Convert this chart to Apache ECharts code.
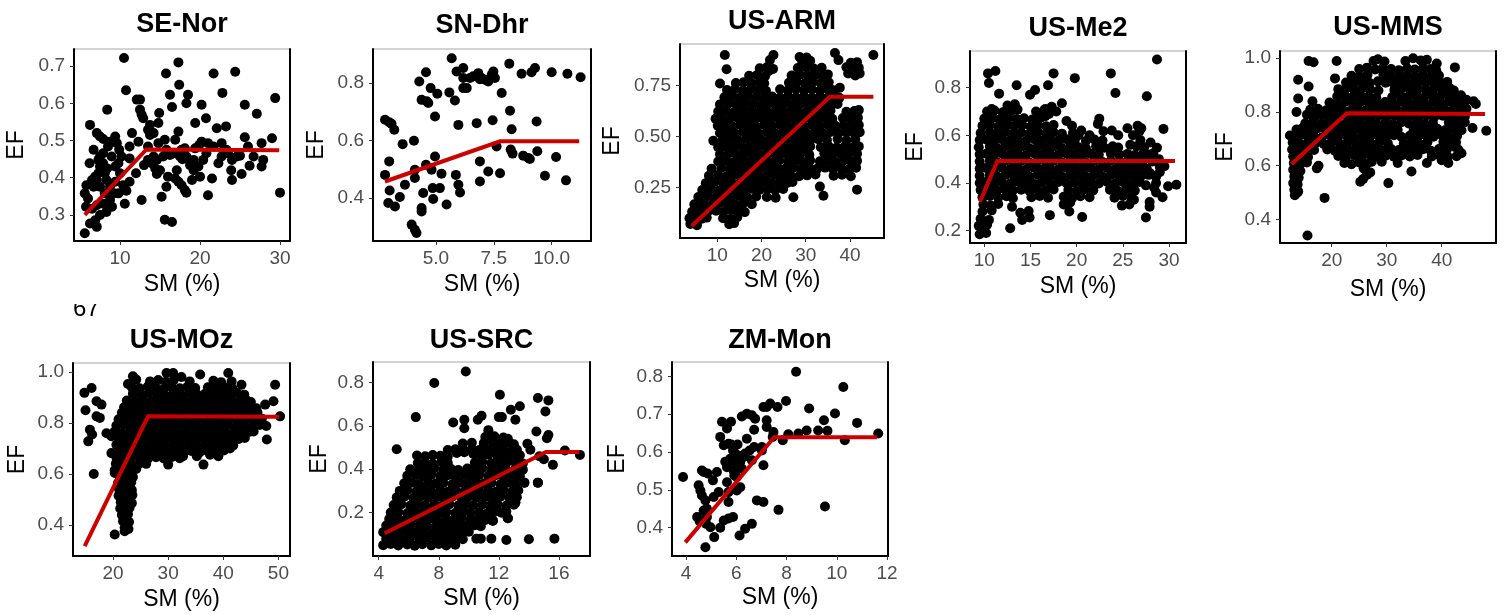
<!DOCTYPE html>
<html>
<head>
<meta charset="utf-8">
<script src="https://cdn.jsdelivr.net/npm/echarts@6/dist/echarts.min.js"></script>
<style>
html,body{margin:0;padding:0;background:#fff;}
#chart{width:1505px;height:615px;}
</style>
</head>
<body>
<div id="chart"></div>
<script>
// ---- site names ----
const siteNames = ['SE-Nor', 'SN-Dhr', 'US-ARM', 'US-Me2', 'US-MMS', 'US-MOz', 'US-SRC', 'ZM-Mon'];

// ---- observations: [SM (%), EF] ----
const seNorPts = [
[10.5,.722],[10.75,.635],[15.75,.68],[17.3,.71],[17.4,.65],[16.25,.623],[16.5,.59],[18.3,.60],[18.5,.623],[20.2,.596],
[20.75,.56],[21.7,.68],[22.8,.628],[24.4,.685],[22.1,.533],[23.25,.538],[25.6,.596],[27.1,.572],[29.4,.614],[29.0,.506],
[30.0,.36],[27.7,.493],[27.7,.43],[26.2,.432],[25.6,.509],[26.0,.484],[25.0,.459],[25.2,.41],[24.0,.394],[23.9,.42],
[24.0,.448],[23.5,.466],[22.7,.493],[22.7,.457],[21.7,.484],[21.0,.493],[20.8,.466],[20.2,.497],[19.9,.488],[20.0,.403],
[21.0,.353],[21.5,.398],[19.4,.479],[19.2,.448],[19.2,.42],[18.75,.434],[18.3,.457],[18.1,.479],[17.8,.45],[19.4,.547],
[17.3,.524],[16.9,.502],[17.7,.475],[16.7,.466],[16.25,.461],[15.6,.502],[15.8,.475],[16.0,.403],[16.9,.398],[17.3,.389],
[17.7,.38],[18.1,.367],[18.3,.36],[15.8,.376],[15.2,.349],[15.6,.287],[16.5,.281],[14.9,.574],[14.8,.547],[13.75,.542],
[13.5,.529],[13.75,.515],[14.2,.52],[13.5,.484],[13.5,.448],[13.96,.439],[14.4,.425],[14.6,.41],[15.0,.42],[15.4,.457],
[14.6,.448],[12.5,.61],[12.1,.61],[12.5,.583],[12.7,.57],[12.9,.56],[12.3,.497],[13.0,.434],[12.0,.412],[12.7,.34],
[11.5,.52],[11.2,.484],[11.2,.452],[11.2,.389],[10.8,.365],[10.6,.33],[10.0,.412],[10.2,.457],[9.9,.475],[9.4,.511],
[9.6,.493],[8.4,.583],[8.75,.497],[8.5,.484],[7.9,.504],[7.1,.52],[7.5,.511],[6.25,.542],[6.2,.439],[7.5,.457],
[7.9,.439],[8.4,.425],[8.1,.412],[7.3,.412],[6.9,.403],[6.5,.394],[5.8,.38],[5.6,.358],[6.0,.344],[6.7,.376],
[7.5,.376],[8.1,.358],[8.75,.376],[9.4,.389],[9.2,.358],[8.75,.34],[7.9,.33],[7.1,.326],[6.5,.317],[5.75,.322],
[7.5,.30],[8.3,.308],[9.0,.322],[6.9,.286],[7.1,.268],[6.25,.277],[5.6,.251],[7.3,.448],[6.7,.475],[7.9,.466],
[8.96,.457],[9.4,.43],[9.8,.439],[10.4,.38],[9.8,.358],[7.5,.43],[7.1,.394],[8.3,.394],[20.4,.448],[22.3,.439],
[23.3,.475],[24.6,.457],[26.7,.457],[27.9,.448],[19.0,.394],[19.8,.43],[17.1,.42],[17.5,.457],[14.8,.493],[14.2,.457]
];

const snDhrPts = [
[2.80,.48],[2.80,.672],[2.98,.663],[3.08,.658],[3.2,.637],[2.98,.527],[3.0,.426],[2.94,.382],[3.23,.37],[3.44,.403],
[3.56,.587],[3.66,.446],[4.05,.599],[4.09,.498],[3.95,.307],[4.09,.289],[4.16,.278],[4.09,.469],[4.28,.805],[4.38,.741],
[4.57,.837],[4.6,.736],[4.67,.73],[4.45,.417],[4.38,.365],[4.38,.353],[4.57,.515],[4.77,.782],[4.96,.683],[5.06,.762],
[4.96,.544],[4.81,.498],[4.86,.434],[4.88,.396],[5.17,.434],[5.24,.484],[5.46,.377],[5.58,.767],[5.68,.886],[5.82,.739],
[5.89,.84],[5.97,.654],[5.86,.48],[5.97,.446],[6.04,.419],[6.18,.852],[6.18,.817],[6.18,.782],[6.33,.782],[6.47,.817],
[6.61,.823],[6.73,.823],[6.83,.834],[6.9,.813],[6.97,.817],[7.12,.811],[7.26,.805],[7.41,.828],[7.48,.84],[7.55,.817],
[6.76,.66],[6.9,.527],[6.9,.457],[7.26,.492],[7.45,.67],[7.62,.579],[7.77,.486],[7.84,.765],[8.17,.867],[8.2,.703],
[8.27,.639],[8.23,.568],[8.31,.554],[8.7,.832],[8.77,.547],[8.99,.539],[9.06,.535],[9.13,.837],[9.28,.852],[9.35,.666],
[9.38,.562],[9.71,.477],[10.0,.837],[10.19,.542],[10.62,.461],[10.68,.832],[11.25,.82]
];

const usArmPts = [
[3.9,.072],[5.4,.066],[12.7,.07],[13.8,.076],
[3.7,.10],[5.0,.104],[6.5,.097],[7.6,.103],[11.3,.10],[12.9,.096],[14.5,.105],
[4.3,.132],[6.0,.138],[7.9,.134],[9.7,.137],[11.4,.131],[13.2,.14],[15.0,.135],[16.2,.13],
[4.8,.168],[6.9,.172],[8.8,.166],[10.5,.174],[12.3,.17],[14.1,.167],[15.9,.175],[17.8,.169],
[5.7,.204],[7.8,.208],[9.6,.20],[11.4,.207],[13.2,.203],[15.0,.209],[16.8,.201],[18.8,.206],[21.2,.204],[23.2,.20],[27.2,.203],[34.0,.21],
[6.6,.238],[8.6,.242],[10.4,.236],[12.2,.243],[14.1,.24],[15.9,.236],[17.7,.244],[19.5,.239],[21.3,.242],[23.1,.237],[24.9,.243],[33.2,.255],[41.6,.24],
[7.4,.272],[9.4,.278],[11.3,.274],[13.1,.279],[15.0,.271],[16.8,.277],[18.6,.273],[20.4,.279],[22.2,.272],[24.0,.276],[25.8,.273],[27.0,.278],
[8.1,.308],[10.2,.312],[12.1,.306],[13.9,.313],[15.7,.309],[17.5,.305],[19.3,.312],[21.1,.307],[22.9,.313],[24.7,.308],[26.5,.311],[28.5,.306],[30.3,.31],[32.2,.314],[36.3,.308],[38.2,.313],[40.2,.306],
[8.7,.343],[10.9,.347],[12.8,.341],[14.6,.348],[16.4,.344],[18.2,.34],[20.0,.347],[21.8,.342],[23.6,.348],[25.4,.343],[27.2,.346],[29.0,.341],[30.8,.347],[32.6,.343],[34.4,.348],[36.2,.342],[38.0,.346],[39.8,.341],[41.4,.347],
[10.2,.378],[12.0,.382],[13.8,.376],[15.6,.383],[17.4,.379],[19.2,.375],[21.0,.382],[22.8,.377],[24.0,.383],[26.0,.378],[27.8,.381],[29.6,.376],[31.0,.383],[33.2,.379],[35.0,.382],[36.8,.376],[38.6,.383],[40.4,.378],[41.6,.381],
[10.6,.413],[12.6,.417],[14.4,.411],[16.2,.418],[18.0,.414],[19.8,.41],[21.6,.417],[23.4,.412],[25.2,.418],[27.0,.413],[28.8,.416],[30.8,.411],[34.2,.417],[36.0,.413],[37.8,.418],[39.6,.412],[41.6,.416],
[10.2,.448],[11.8,.452],[13.6,.446],[15.4,.453],[17.2,.449],[19.0,.445],[20.8,.452],[22.6,.447],[24.4,.453],[26.2,.448],[28.0,.451],[29.8,.446],[31.0,.452],[33.4,.448],[35.2,.453],[37.0,.447],[38.8,.451],[40.6,.446],[42.0,.452],
[9.1,.48],[11.2,.483],[13.0,.487],[14.8,.481],[16.6,.488],[18.4,.484],[20.2,.48],[22.0,.487],[23.8,.482],[25.6,.488],[27.4,.483],[29.2,.486],[31.0,.481],[32.8,.487],[34.8,.483],[37.2,.488],[39.2,.482],[41.2,.486],
[10.6,.518],[12.2,.522],[14.0,.516],[15.8,.523],[17.6,.519],[19.4,.515],[21.2,.522],[23.0,.517],[24.8,.523],[26.6,.518],[28.4,.521],[30.2,.516],[32.0,.522],[33.8,.518],[35.6,.523],[37.4,.517],[39.2,.521],[41.0,.516],[42.2,.522],
[10.1,.553],[11.6,.557],[13.4,.551],[15.2,.558],[17.0,.554],[18.8,.55],[20.6,.557],[22.4,.552],[24.2,.558],[26.0,.553],[27.8,.556],[29.6,.551],[31.4,.557],[33.2,.553],[35.0,.558],[36.8,.552],[38.6,.556],[40.4,.551],[42.0,.557],
[9.6,.588],[11.0,.592],[12.8,.586],[14.6,.593],[16.4,.589],[18.2,.585],[20.0,.592],[21.8,.587],[23.6,.593],[25.4,.588],[27.2,.591],[29.0,.586],[30.8,.592],[32.6,.588],[34.4,.593],[36.0,.587],[38.4,.591],[40.2,.586],[41.8,.592],
[10.2,.623],[12.0,.627],[13.8,.621],[15.6,.628],[17.4,.624],[19.2,.62],[21.0,.627],[22.8,.622],[24.6,.628],[26.4,.623],[28.2,.626],[30.0,.621],[31.8,.627],[33.6,.623],[35.6,.628],[39.2,.622],[41.0,.626],[42.0,.63],
[10.6,.658],[12.6,.662],[14.4,.656],[16.2,.663],[18.0,.659],[19.8,.655],[21.6,.662],[23.4,.657],[25.2,.663],[27.0,.658],[28.8,.661],[30.6,.656],[32.4,.662],[34.2,.658],[36.2,.663],[37.2,.66],
[11.6,.693],[13.4,.697],[15.2,.691],[17.0,.698],[18.8,.694],[20.6,.69],[22.4,.697],[24.2,.692],[26.0,.698],[27.8,.693],[29.6,.696],[31.4,.691],[33.2,.697],[35.0,.693],[36.8,.698],[37.6,.69],
[12.2,.728],[14.0,.732],[15.8,.726],[17.6,.733],[19.4,.729],[21.0,.725],[24.2,.732],[26.0,.727],[27.8,.733],[29.6,.728],[31.4,.731],[33.2,.726],[35.0,.732],[36.0,.728],[37.7,.74],
[10.6,.76],[14.2,.763],[16.0,.767],[17.8,.761],[19.6,.768],[20.6,.762],[26.2,.764],[28.0,.768],[29.8,.762],[31.6,.767],[33.4,.763],[35.2,.766],
[17.2,.798],[19.0,.802],[20.8,.796],[21.6,.82],[26.8,.80],[28.6,.804],[30.4,.798],[32.2,.803],[34.0,.799],[35.0,.805],[39.6,.81],[41.2,.80],[42.2,.81],
[12.1,.83],[19.6,.835],[21.2,.84],[22.6,.832],[28.2,.836],[30.0,.84],[31.8,.834],[33.6,.838],[39.2,.84],[40.8,.845],[42.0,.838],
[21.9,.875],[29.2,.87],[31.0,.872],[37.4,.875],[40.2,.862],[41.6,.865],
[11.7,.90],[22.7,.90],[28.6,.89],[30.2,.888],[36.6,.91],[45.3,.90]
];

const usMe2Pts = [
[9.5,.185],[10.2,.19],[9.8,.20],
[9.4,.22],[10.3,.225],[12.8,.21],
[9.6,.25],[10.5,.245],[14.1,.245],[14.9,.255],[20.6,.257],[27.5,.255],
[9.8,.28],[10.8,.285],[13.9,.275],[14.8,.282],[17.1,.265],[19.2,.28],
[9.9,.31],[10.7,.305],[11.5,.312],[13.0,.30],[18.6,.31],[19.3,.318],[25.7,.31],[27.9,.30],[24.9,.305],
[9.8,.34],[10.6,.345],[11.5,.338],[12.4,.344],[13.1,.336],[15.1,.34],[16.0,.345],[16.9,.338],[18.6,.342],[19.5,.336],[20.4,.344],[21.4,.34],[24.1,.338],[25.0,.345],[25.9,.34],
[9.6,.37],[10.5,.373],[11.4,.367],[12.2,.374],[13.1,.369],[14.0,.372],[14.9,.366],[15.7,.374],[16.6,.368],[17.5,.373],[19.1,.37],[20.0,.366],[20.9,.374],[21.8,.369],[23.6,.372],[24.5,.366],[25.4,.374],[26.3,.368],[28.4,.38],[26.1,.386],
[9.5,.40],[10.2,.404],[11.0,.397],[11.9,.403],[12.8,.398],[13.6,.405],[14.5,.40],[15.4,.396],[16.2,.403],[17.1,.398],[18.0,.404],[18.9,.399],[19.7,.402],[20.6,.397],[21.5,.403],[22.4,.398],[23.3,.404],[24.2,.399],[25.1,.402],[25.9,.396],[26.8,.404],[28.6,.40],[29.9,.386],[30.8,.393],
[9.5,.43],[10.6,.433],[11.4,.427],[12.3,.434],[13.2,.429],[14.0,.432],[14.9,.426],[15.8,.434],[16.7,.428],[17.5,.433],[18.4,.427],[19.3,.434],[20.2,.43],[21.0,.426],[21.9,.433],[22.8,.428],[23.7,.434],[24.6,.429],[25.5,.432],[26.3,.427],[27.0,.43],[27.8,.434],[28.6,.426],[29.0,.445],
[9.5,.46],[10.2,.463],[11.0,.457],[11.9,.464],[12.8,.459],[13.6,.462],[14.5,.456],[15.4,.464],[16.2,.458],[17.1,.463],[18.0,.457],[18.9,.464],[19.7,.46],[20.6,.456],[21.5,.463],[22.4,.458],[23.3,.464],[24.2,.459],[25.1,.462],[25.9,.457],[26.6,.463],[27.6,.46],[29.0,.468],
[9.5,.49],[10.6,.493],[11.4,.487],[12.3,.494],[13.2,.489],[14.0,.492],[14.9,.486],[15.8,.494],[16.7,.488],[17.5,.493],[18.4,.487],[19.3,.494],[20.2,.49],[21.0,.486],[21.9,.493],[22.8,.488],[23.7,.494],[24.6,.489],[25.5,.492],[26.3,.487],[27.1,.493],
[9.5,.52],[10.2,.523],[11.0,.517],[11.9,.524],[12.8,.519],[13.6,.522],[14.5,.516],[15.4,.524],[16.2,.518],[17.1,.523],[18.0,.517],[18.9,.524],[19.7,.52],[20.6,.516],[21.5,.523],[22.4,.518],[23.7,.524],[24.6,.519],[25.5,.522],[26.3,.517],[27.2,.523],[28.3,.525],
[9.4,.55],[10.6,.553],[11.4,.547],[12.3,.554],[13.2,.549],[14.0,.552],[14.9,.546],[15.8,.554],[16.7,.548],[17.5,.553],[18.4,.547],[19.3,.554],[20.2,.55],[21.0,.546],[22.1,.553],[23.0,.548],[23.9,.554],[24.5,.549],[26.5,.554],[28.7,.548],
[9.5,.58],[10.2,.583],[11.0,.577],[11.9,.584],[12.8,.579],[13.6,.582],[14.5,.576],[15.4,.584],[16.2,.578],[17.1,.583],[18.0,.577],[18.9,.584],[19.8,.58],[21.0,.576],[21.9,.583],[22.8,.578],[28.0,.57],
[9.6,.61],[10.6,.613],[11.4,.607],[12.3,.614],[13.2,.609],[14.0,.612],[14.9,.606],[15.8,.614],[16.7,.608],[17.5,.613],[18.4,.607],[22.9,.617],[26.8,.617],[29.4,.627],
[9.8,.64],[10.6,.643],[11.5,.637],[12.4,.644],[13.2,.639],[14.1,.642],[15.0,.636],[15.8,.644],[16.7,.638],[17.5,.643],[22.3,.648],[26.6,.64],
[10.0,.67],[10.9,.673],[11.7,.667],[12.6,.674],[13.5,.669],[14.3,.672],[15.2,.666],[16.1,.674],[16.6,.68],[22.45,.67],
[10.3,.70],[11.1,.704],[12.0,.697],[12.9,.703],[13.6,.708],[15.6,.70],[16.5,.706],[17.0,.69],
[10.8,.71],[12.5,.725],[13.3,.73],[18.4,.735],[17.3,.72],
[26.9,.58],[27.3,.55],[27.8,.52],[28.2,.49],[26.5,.50],[27.2,.47],[28.0,.44],[26.7,.41],[27.5,.39],[28.6,.36],
[29.3,.34],[27.9,.32],[26.2,.33],[28.9,.50],[29.5,.47],[25.8,.56],[26.1,.60],[27.0,.63],[25.5,.63],[24.5,.60],
[23.8,.62],[20.5,.62],[19.5,.64],[18.9,.66],[20.2,.60],[21.4,.60],[19.6,.61],[16.6,.71],[17.8,.70],
[10.4,.86],[11.2,.87],[10.5,.82],[11.6,.775],[13.5,.81],[14.95,.77],[15.5,.79],[16.9,.81],[17.5,.86],[19.8,.84],[23.7,.86],[24.2,.778],[27.6,.764],[28.7,.918]
];

const usMmsPts = [
[15.8,.99],[16.7,.985],[20.9,.99],[27.6,.99],[28.4,.996],[29.6,.988],[33.4,.99],[34.8,1.0],[36.2,.992],[37.3,.994],[39.1,.98],
[25.0,.96],[26.4,.965],[27.9,.958],[29.3,.964],[30.8,.96],[32.2,.955],[33.7,.963],[35.1,.958],[36.6,.964],[38.0,.96],[39.0,.955],[42.4,.966],
[13.9,.92],[23.6,.935],[25.0,.932],[26.5,.938],[29.4,.939],[30.8,.934],[32.3,.93],[33.7,.937],[35.2,.932],[36.6,.938],[38.1,.933],[39.5,.936],
[20.6,.925],[22.6,.91],[24.0,.906],[25.5,.913],[26.9,.908],[28.4,.914],[29.8,.909],[31.3,.905],[32.7,.912],[34.2,.907],[35.6,.913],[37.1,.908],[38.5,.911],[40.0,.906],[41.0,.912],
[15.8,.895],[21.2,.885],[22.7,.888],[24.1,.882],[25.6,.889],[27.0,.884],[28.5,.88],[31.4,.882],[32.8,.888],[34.3,.883],[35.7,.886],[37.2,.881],[38.6,.887],[40.1,.883],[41.5,.888],[42.2,.88],
[13.9,.85],[21.0,.858],[22.3,.862],[23.8,.856],[25.2,.863],[26.7,.858],[28.1,.854],[31.0,.856],[32.5,.862],[33.9,.857],[35.4,.86],[36.8,.855],[38.3,.861],[39.7,.857],[41.2,.862],[42.6,.856],[43.5,.862],
[16.5,.84],[19.6,.835],[21.0,.832],[22.5,.838],[23.9,.833],[25.4,.839],[26.8,.834],[28.3,.83],[29.7,.837],[31.2,.832],[32.6,.838],[34.1,.833],[35.5,.836],[37.0,.831],[38.4,.837],[39.9,.833],[41.3,.838],[42.8,.832],[44.2,.838],[44.5,.845],[45.8,.84],
[16.1,.808],[17.5,.812],[19.0,.806],[20.4,.813],[21.9,.808],[23.3,.804],[24.8,.811],[26.2,.806],[27.7,.812],[29.1,.807],[30.6,.81],[32.0,.805],[33.5,.811],[34.9,.807],[36.4,.812],[37.8,.806],[39.3,.81],[40.7,.805],[42.2,.811],[43.6,.806],[44.5,.812],[46.2,.83],
[13.6,.80],[15.5,.79],[17.0,.784],[18.4,.788],[19.9,.782],[21.3,.789],[22.8,.784],[24.2,.78],[25.7,.787],[27.1,.782],[28.6,.788],[30.0,.783],[31.5,.786],[32.9,.781],[34.4,.787],[35.8,.783],[37.3,.788],[38.7,.782],[40.2,.786],[41.6,.781],[43.1,.787],[44.2,.782],
[15.2,.758],[16.6,.762],[18.1,.756],[19.5,.763],[21.0,.758],[22.4,.754],[23.9,.761],[25.3,.756],[26.8,.762],[28.2,.757],[29.7,.76],[31.1,.755],[32.6,.761],[34.0,.757],[35.5,.762],[36.9,.756],[38.4,.76],[41.3,.761],[42.7,.757],[44.2,.762],
[13.6,.735],[14.6,.738],[16.0,.732],[17.5,.739],[18.9,.734],[20.4,.73],[21.8,.737],[23.3,.732],[24.7,.738],[26.2,.733],[27.6,.736],[29.1,.731],[30.5,.737],[32.0,.733],[34.9,.732],[36.3,.736],[37.8,.731],[39.2,.737],[40.7,.733],[42.1,.738],[43.6,.732],[45.6,.74],[48.1,.73],
[12.4,.712],[13.9,.708],[15.3,.714],[16.8,.709],[18.2,.705],[19.7,.712],[21.1,.707],[22.6,.713],[24.0,.708],[25.5,.711],[26.9,.706],[28.4,.712],[29.8,.708],[31.3,.713],[32.7,.707],[34.2,.711],[35.6,.706],[37.1,.712],[38.5,.708],[40.0,.713],[41.4,.707],[42.8,.711],
[12.9,.686],[14.2,.682],[15.7,.689],[17.1,.684],[18.6,.68],[20.0,.687],[21.5,.682],[22.9,.688],[24.4,.683],[25.8,.686],[27.3,.681],[28.7,.687],[30.2,.683],[33.1,.682],[34.5,.686],[36.0,.681],[37.4,.687],[40.3,.688],[41.8,.682],[42.6,.686],
[12.8,.66],[13.9,.656],[15.3,.663],[16.8,.658],[19.2,.66],[20.6,.655],[22.1,.662],[23.5,.657],[25.0,.663],[26.4,.658],[27.9,.661],[29.3,.656],[30.8,.662],[32.2,.658],[33.7,.663],[35.1,.657],[36.6,.661],[38.0,.656],[39.5,.662],[40.9,.658],[42.4,.67],[43.0,.66],
[13.0,.635],[14.3,.638],[15.7,.632],[21.2,.636],[22.6,.632],[24.1,.639],[25.5,.634],[27.0,.64],[28.4,.635],[29.9,.638],[31.3,.633],[32.8,.639],[34.2,.634],[35.6,.64],[38.2,.634],[39.6,.638],[41.1,.633],[42.7,.635],[43.6,.646],
[13.1,.61],[14.3,.606],[15.5,.612],[17.6,.60],[22.3,.61],[23.6,.605],[25.0,.612],[26.4,.607],[27.3,.615],[29.1,.615],[32.0,.61],[37.3,.61],[41.2,.61],[40.0,.62],
[13.0,.585],[14.3,.58],[17.3,.59],[27.0,.575],[34.5,.578],[25.8,.59],
[13.2,.56],[14.0,.555],[26.4,.565],[30.3,.535],[25.7,.55],
[13.0,.535],[13.8,.53],[25.2,.54],
[13.2,.51],[13.9,.505],
[13.3,.49],[18.7,.48],[13.8,.50],
[15.6,.34]
];

const usMozPts = [
[23.6,.983],[29.7,.996],[30.9,.996],[35.8,.99],[40.9,.996],
[22.7,.953],[24.2,.97],[26.7,.963],[28.2,.968],[29.6,.962],[31.0,.968],[32.4,.98],[33.9,.963],[38.2,.965],[39.6,.96],[41.5,.963],
[16.1,.937],[23.4,.94],[24.8,.936],[26.3,.943],[27.7,.938],[29.2,.934],[30.6,.941],[32.1,.936],[33.5,.942],[34.9,.937],[37.2,.94],[38.7,.935],[40.1,.942],[41.6,.937],[43.3,.95],[49.4,.95],
[14.8,.918],[23.6,.915],[25.1,.912],[26.5,.918],[28.0,.913],[29.4,.909],[30.9,.916],[32.3,.911],[33.8,.917],[35.2,.912],[36.7,.915],[38.1,.91],[39.6,.916],[41.0,.912],[42.5,.917],[43.8,.911],
[17.0,.885],[22.5,.888],[24.0,.884],[25.4,.891],[26.9,.886],[28.3,.882],[29.8,.889],[31.2,.884],[32.7,.89],[34.1,.885],[35.6,.888],[37.0,.883],[38.5,.889],[39.9,.885],[41.4,.89],[42.8,.884],[44.3,.888],[45.0,.882],[49.1,.885],
[17.9,.872],[22.0,.862],[23.3,.866],[24.7,.86],[26.2,.867],[27.6,.862],[29.1,.858],[30.5,.865],[32.0,.86],[33.4,.866],[34.9,.861],[36.3,.864],[37.8,.859],[39.2,.865],[40.7,.861],[42.1,.866],[43.6,.86],[45.0,.864],[46.0,.858],[47.6,.872],
[15.0,.85],[21.6,.84],[23.0,.837],[24.5,.843],[25.9,.838],[27.4,.844],[28.8,.839],[30.3,.835],[31.7,.842],[33.2,.837],[34.6,.843],[36.1,.838],[37.5,.841],[39.0,.836],[40.4,.842],[41.9,.838],[43.3,.843],[44.8,.837],[46.2,.841],
[17.0,.826],[17.6,.82],[21.0,.815],[22.4,.818],[23.9,.812],[25.3,.819],[26.8,.814],[28.2,.81],[29.7,.817],[31.1,.812],[32.6,.818],[34.0,.813],[35.5,.816],[36.9,.811],[38.4,.817],[39.8,.813],[41.3,.818],[42.7,.812],[44.2,.816],[45.6,.811],[47.0,.817],[46.7,.80],[50.3,.826],
[20.6,.79],[22.0,.793],[23.4,.787],[24.9,.794],[26.3,.789],[27.8,.785],[29.2,.792],[30.7,.787],[32.1,.793],[33.6,.788],[35.0,.791],[36.5,.786],[37.9,.792],[39.4,.788],[40.8,.793],[42.3,.787],[43.7,.791],[45.2,.786],[46.6,.792],[47.8,.788],
[15.8,.774],[18.8,.76],[20.2,.765],[21.6,.761],[23.1,.768],[24.5,.763],[26.0,.759],[27.4,.766],[28.9,.761],[30.3,.767],[31.8,.762],[33.2,.765],[34.7,.76],[36.1,.766],[37.6,.762],[39.0,.767],[40.5,.761],[41.9,.765],[43.4,.76],[44.8,.766],[45.5,.767],
[15.5,.728],[16.2,.755],[19.7,.748],[21.1,.74],[22.5,.743],[24.0,.737],[25.4,.744],[26.9,.739],[28.3,.735],[29.8,.742],[31.2,.737],[32.7,.743],[34.1,.738],[35.6,.741],[37.0,.736],[38.5,.742],[39.9,.738],[41.4,.743],[42.8,.737],[43.9,.741],[47.9,.735],
[20.6,.715],[22.0,.718],[23.4,.712],[24.9,.719],[26.3,.714],[27.8,.71],[29.2,.717],[30.7,.712],[32.1,.718],[33.6,.713],[35.0,.716],[36.5,.711],[37.9,.717],[39.4,.713],[40.8,.718],[41.8,.712],
[19.7,.682],[21.2,.69],[22.6,.687],[24.1,.693],[25.5,.688],[27.0,.684],[28.4,.691],[29.9,.686],[31.3,.692],[32.8,.687],[34.2,.69],[35.7,.685],[37.1,.691],[38.6,.687],[40.1,.692],[41.2,.70],
[20.6,.665],[22.0,.662],[23.4,.668],[24.9,.663],[26.3,.659],[27.8,.666],[29.2,.661],[30.7,.667],[32.1,.662],[32.7,.67],[35.2,.67],[37.6,.676],[39.1,.67],
[20.5,.64],[21.8,.636],[23.2,.643],[24.6,.638],[26.0,.64],[30.0,.637],[36.4,.637],
[20.3,.615],[21.6,.618],[23.0,.612],[24.2,.62],
[16.5,.60],[20.3,.604],[21.2,.59],[22.4,.593],[23.6,.588],
[20.9,.565],[22.1,.562],[23.3,.568],
[21.1,.54],[22.3,.543],[23.4,.537],
[21.0,.515],[22.2,.512],[23.5,.518],
[21.4,.49],[22.6,.493],[23.4,.486],
[21.3,.465],[22.4,.462],[23.0,.468],
[21.6,.44],[22.7,.443],
[21.8,.415],[22.9,.412],
[22.1,.39],[22.8,.385],
[20.3,.363],[22.1,.376]
];

const usSrcPts = [
[4.3,.05],[4.8,.055],[5.3,.048],[5.9,.053],[6.4,.047],[6.9,.054],[7.5,.049],[8.0,.055],[8.5,.048],[9.1,.052],
[4.5,.08],[5.0,.083],[5.6,.078],[6.1,.084],[6.7,.079],[7.2,.085],[7.8,.08],[8.3,.084],[8.8,.079],[9.3,.083],[9.6,.077],[10.5,.08],[10.8,.08],[11.5,.08],[12.5,.074],[14.0,.077],[15.7,.08],
[4.3,.11],[4.8,.113],[5.3,.107],[5.9,.114],[6.4,.109],[6.9,.112],[7.5,.106],[8.0,.113],[8.5,.108],[9.1,.114],[9.6,.109],[10.0,.112],
[4.5,.14],[5.0,.143],[5.6,.137],[6.1,.144],[6.7,.139],[7.2,.142],[7.8,.136],[8.3,.143],[8.8,.138],[9.4,.144],[9.9,.139],[10.4,.142],[10.8,.137],
[4.7,.17],[5.3,.173],[5.8,.167],[6.3,.174],[6.9,.169],[7.4,.172],[7.9,.166],[8.5,.173],[9.0,.168],[9.5,.174],[10.1,.169],[10.6,.172],[11.1,.166],[11.6,.163],[12.6,.174],
[4.8,.20],[5.3,.203],[5.9,.197],[6.4,.204],[6.9,.199],[7.5,.202],[8.0,.196],[8.5,.203],[9.1,.198],[9.6,.204],[10.1,.199],[10.7,.202],[11.2,.196],[11.7,.203],[12.2,.20],[12.5,.205],
[5.0,.235],[5.5,.238],[6.1,.232],[6.6,.239],[7.1,.234],[7.7,.237],[8.2,.231],[8.7,.238],[9.3,.233],[9.8,.239],[10.3,.234],[10.9,.237],[11.4,.231],[11.9,.238],[12.5,.233],[13.0,.236],[13.1,.246],
[5.2,.27],[5.7,.273],[6.3,.267],[6.8,.274],[7.3,.269],[7.9,.272],[8.4,.266],[8.9,.273],[9.5,.268],[10.0,.274],[10.5,.269],[11.1,.272],[11.6,.266],[12.1,.273],[12.7,.268],[13.2,.271],
[5.4,.30],[5.9,.303],[6.5,.297],[7.0,.304],[7.5,.299],[8.1,.302],[8.6,.296],[9.1,.303],[9.7,.298],[10.2,.304],[10.7,.299],[11.3,.302],[11.8,.296],[12.3,.303],[12.9,.298],[13.3,.302],
[5.7,.335],[6.2,.338],[6.7,.332],[7.3,.339],[7.8,.334],[8.3,.337],[8.9,.331],[9.4,.338],[9.9,.333],[10.5,.339],[11.0,.334],[11.5,.337],[12.1,.331],[12.6,.338],[13.1,.333],[13.7,.338],[14.6,.338],
[5.9,.37],[6.5,.373],[7.0,.367],[7.5,.374],[8.1,.369],[8.6,.372],[9.1,.366],[9.7,.373],[10.2,.368],[10.7,.374],[11.3,.369],[11.8,.372],[12.3,.366],[12.9,.373],[13.4,.368],
[6.1,.40],[6.7,.403],[7.2,.397],[7.7,.404],[8.3,.399],[8.8,.402],[9.3,.396],[9.9,.403],[10.4,.398],[10.9,.404],[11.5,.399],[12.0,.402],[12.5,.396],[13.1,.403],[13.6,.398],
[6.6,.428],[7.1,.432],[7.6,.426],[8.2,.433],[8.6,.428],[10.4,.43],[10.9,.433],[11.5,.427],[12.0,.434],[12.5,.429],[13.1,.432],[13.6,.426],
[6.55,.463],[7.1,.46],[7.6,.465],[8.1,.462],[8.6,.458],[9.2,.475],[9.7,.478],[10.3,.47],[10.8,.463],[11.3,.467],[11.9,.461],[12.4,.466],[12.9,.46],[13.4,.464],[15.0,.446],[14.7,.46],[17.4,.466],
[8.6,.488],[9.1,.492],[9.7,.486],[10.2,.493],[10.7,.488],[11.3,.491],[11.8,.485],[12.3,.492],[12.9,.487],[13.2,.49],[5.2,.492],[14.1,.49],[16.4,.486],
[9.6,.518],[10.2,.522],[11.0,.52],[11.6,.524],[12.1,.518],[12.7,.522],[13.0,.515],[13.9,.517],
[11.1,.548],[11.7,.552],[12.3,.546],[12.6,.54],[15.2,.543],[15.3,.558],[11.3,.58],
[9.8,.85],[7.7,.797],[6.47,.64],[8.96,.615],[9.7,.628],[9.7,.589],[10.85,.646],[10.6,.628],[12.07,.743],[12.0,.64],
[12.2,.64],[12.8,.674],[13.4,.69],[13.1,.628],[14.6,.728],[15.3,.717],[15.1,.666],[14.5,.574],[15.6,.42],[14.6,.338],
[13.7,.338],[13.1,.246],[12.6,.174],[11.6,.163],[12.2,.20]
];

const zmMonPts = [
[3.88,.534],[4.63,.551],[4.7,.547],[4.86,.543],[5.23,.547],[5.07,.525],[4.5,.512],[4.57,.498],[4.63,.485],[4.77,.472],
[4.7,.445],[4.83,.45],[4.54,.417],[4.8,.41],[4.97,.401],[4.77,.348],[5.12,.375],[5.36,.40],[5.5,.419],[5.69,.424],
[5.87,.428],[6.13,.379],[6.35,.397],[6.62,.41],[6.82,.472],[7.08,.468],[7.68,.447],[7.08,.565],[7.02,.604],[9.53,.456],
[5.36,.64],[5.43,.68],[5.79,.68],[5.63,.662],[5.5,.618],[5.69,.622],[5.56,.574],[5.63,.56],[5.76,.582],[5.63,.52],
[5.69,.494],[5.69,.468],[5.83,.578],[5.87,.604],[5.96,.596],[6.0,.565],[5.92,.538],[6.02,.498],[6.16,.574],[6.22,.556],
[6.29,.587],[6.35,.596],[6.42,.635],[6.22,.694],[6.42,.701],[6.62,.697],[6.75,.688],[6.71,.659],[6.53,.604],[6.62,.578],
[6.71,.613],[7.02,.613],[7.08,.719],[7.21,.719],[7.35,.728],[7.21,.684],[7.21,.666],[7.48,.653],[7.64,.719],[7.98,.735],
[7.45,.64],[7.85,.631],[8.38,.812],[8.07,.647],[8.47,.649],[8.9,.715],[8.8,.657],[9.26,.657],[9.49,.684],[9.63,.656],
[9.93,.702],[10.26,.772],[10.32,.631],[10.81,.677],[11.65,.649],[6.16,.507],[6.02,.534],[5.1,.481],[5.3,.494],[4.83,.428],
[4.44,.428],[5.9,.55],[6.1,.59],[5.8,.62],[6.05,.62]
];

// ---- segmented regression fits: start, breakpoint, end ----
const seNorFit = [[5.6, 0.300], [13.3, 0.476], [29.9, 0.474]];
const snDhrFit = [[2.80, 0.457], [7.77, 0.597], [11.19, 0.597]];
const usArmFit = [[4.2, 0.062], [35.5, 0.696], [45.3, 0.696]];
const usMe2Fit = [[9.53, 0.321], [11.41, 0.492], [30.65, 0.492]];
const usMmsFit = [[12.73, 0.606], [22.73, 0.795], [47.87, 0.792]];
const usMozFit = [[14.85, 0.318], [26.34, 0.826], [50.1, 0.824]];
const usSrcFit = [[4.40, 0.105], [15.14, 0.479], [17.36, 0.479]];
const zmMonFit = [[3.97, 0.361], [7.51, 0.639], [11.60, 0.639]];

// ---- axis ticks and extents ----
const xTicks = [[10,20,30],[5,7.5,10],[10,20,30,40],[10,15,20,25,30],[20,30,40],[20,30,40,50],[4,8,12,16],[4,6,8,10,12]];
const yTicks = [[0.3,0.4,0.5,0.6,0.7],[0.4,0.6,0.8],[0.25,0.5,0.75],[0.2,0.4,0.6,0.8],[0.4,0.6,0.8,1.0],[0.4,0.6,0.8,1.0],[0.2,0.4,0.6,0.8],[0.4,0.5,0.6,0.7,0.8]];
const xDecimals = [0,1,0,0,0,0,0,0];
const yDecimals = [1,1,2,1,1,1,1,1];
const xExtent = [[4.25,31.25],[2.28,11.70],[1.56,47.7],[8.45,31.84],[10.6,49.87],[12.73,52.1],[3.62,18.07],[3.44,12.04]];
const yExtent = [[0.23,0.746],[0.25,0.918],[0.003,0.954],[0.148,0.954],[0.312,1.027],[0.279,1.035],[0.0,0.894],[0.325,0.838]];

const pointSets = [seNorPts, snDhrPts, usArmPts, usMe2Pts, usMmsPts, usMozPts, usSrcPts, zmMonPts];
const fitSets = [seNorFit, snDhrFit, usArmFit, usMe2Fit, usMmsFit, usMozFit, usSrcFit, zmMonFit];

// ---- panel layout (pixels) ----
const boxes = [
  {l:74,  t:49,  w:216, h:192},
  {l:373, t:49,  w:218, h:192},
  {l:680, t:44,  w:204, h:194},
  {l:970, t:51,  w:216, h:192},
  {l:1280,t:51,  w:216, h:192},
  {l:73,  t:363, w:217, h:193},
  {l:373, t:362, w:217, h:194},
  {l:672, t:362, w:216, h:194}
];
const titleY = [25, 26, 22, 29, 28, 341, 341, 341];
const xNameY = [285, 285, 281, 287, 290, 600, 598.5, 598];
const yNameX = [17, 317, 613, 916, 1226, 18, 320, 618];

const FONT = '"Liberation Sans", Arial, Helvetica, sans-serif';
const LABEL_GRAY = '#4d4d4d';
const FIT_RED = '#cd0000';

const grids = [], xAxes = [], yAxes = [], series = [], graphics = [];

boxes.forEach((b, i) => {
  grids.push({
    left: b.l, top: b.t, width: b.w, height: b.h,
    show: true, borderColor: '#a6a6a6', borderWidth: 1, backgroundColor: '#fff',
    containLabel: false, outerBoundsMode: 'none'
  });
  xAxes.push({
    gridIndex: i, type: 'value', position: 'bottom',
    min: xExtent[i][0], max: xExtent[i][1],
    axisLine: {show: true, onZero: false, lineStyle: {color: '#000', width: 2}},
    axisTick: {show: true, length: 4, lineStyle: {color: '#333', width: 1}, customValues: xTicks[i]},
    axisLabel: {
      show: true, customValues: xTicks[i], margin: 8,
      color: LABEL_GRAY, fontSize: 19, fontFamily: FONT,
      formatter: (v => Number(v).toFixed(xDecimals[i]))
    },
    splitLine: {show: false}
  });
  yAxes.push({
    gridIndex: i, type: 'value', position: 'left',
    min: yExtent[i][0], max: yExtent[i][1],
    axisLine: {show: true, onZero: false, lineStyle: {color: '#000', width: 2}},
    axisTick: {show: true, length: 4, lineStyle: {color: '#333', width: 1}, customValues: yTicks[i]},
    axisLabel: {
      show: true, customValues: yTicks[i], margin: 9,
      color: LABEL_GRAY, fontSize: 19, fontFamily: FONT,
      formatter: (v => Number(v).toFixed(yDecimals[i]))
    },
    splitLine: {show: false}
  });
  // right-hand frame edge
  yAxes.push({
    gridIndex: i, type: 'value', position: 'right',
    min: yExtent[i][0], max: yExtent[i][1],
    axisLine: {show: true, onZero: false, lineStyle: {color: '#000', width: 2}},
    axisTick: {show: false}, axisLabel: {show: false}, splitLine: {show: false}
  });

  series.push({
    type: 'scatter', xAxisIndex: i, yAxisIndex: 2 * i,
    data: pointSets[i], symbol: 'circle', symbolSize: 10,
    itemStyle: {color: '#000', opacity: 1}, silent: true, z: 2
  });
  series.push({
    type: 'line', xAxisIndex: i, yAxisIndex: 2 * i,
    data: fitSets[i], symbol: 'none', smooth: false,
    lineStyle: {color: FIT_RED, width: 4, cap: 'butt', join: 'miter'},
    silent: true, z: 3
  });

  const cx = b.l + b.w / 2;
  const cy = b.t + b.h / 2;
  graphics.push({
    type: 'text', x: cx, y: titleY[i], silent: true,
    style: {text: siteNames[i], fill: '#000', font: 'bold 27px ' + FONT,
            textAlign: 'center', textVerticalAlign: 'middle', align: 'center', verticalAlign: 'middle'}
  });
  graphics.push({
    type: 'text', x: cx, y: xNameY[i], silent: true,
    style: {text: 'SM (%)', fill: '#000', font: '23px ' + FONT,
            textAlign: 'center', textVerticalAlign: 'middle', align: 'center', verticalAlign: 'middle'}
  });
  graphics.push({
    type: 'text', x: yNameX[i], y: cy, rotation: Math.PI / 2, silent: true,
    style: {text: 'EF', fill: '#000', font: '23px ' + FONT,
            textAlign: 'center', textVerticalAlign: 'middle', align: 'center', verticalAlign: 'middle'}
  });
});

// clipped panel tag between the rows
graphics.push({
  type: 'text', x: 73, y: 309.5, silent: true, z: 10,
  style: {text: '67', fill: '#000', font: '24px ' + FONT,
          textAlign: 'left', textVerticalAlign: 'middle', align: 'left', verticalAlign: 'middle'}
});
graphics.push({
  type: 'rect', silent: true, z: 11,
  shape: {x: 60, y: 292, width: 60, height: 12},
  style: {fill: '#fff'}
});

const chart = echarts.init(document.getElementById('chart'), null, {renderer: 'canvas'});
chart.setOption({
  animation: false,
  backgroundColor: '#fff',
  grid: grids,
  xAxis: xAxes,
  yAxis: yAxes,
  series: series,
  graphic: {elements: graphics}
});
</script>
</body>
</html>
